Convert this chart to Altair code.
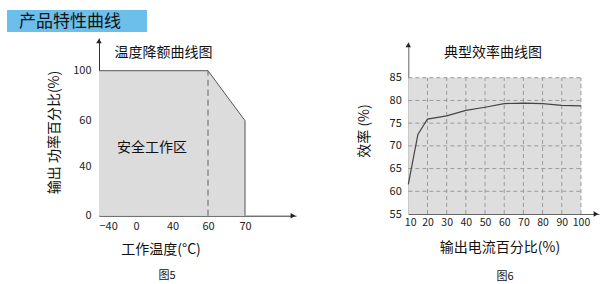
import altair as alt
import pandas as pd

FONT = "Noto Sans CJK SC"

# ---- derating curve (output power % vs ambient temperature) ----
derate_temp = [-40, 60, 70]
derate_power = [100, 100, 60]
outline_temp = [-40, 60, 70, 70]
outline_power = [100, 100, 60, 0]
temp_ticks = [-40, 0, 40, 60, 70]
power_ticks = [0, 40, 60, 100]

# ---- typical efficiency curve ----
load_pct = [10, 15, 20, 30, 40, 50, 60, 70, 80, 90, 100]
efficiency = [61.5, 72.5, 75.9, 76.6, 77.8, 78.5, 79.3, 79.4, 79.3, 78.9, 78.8]
load_ticks = [10, 20, 30, 40, 50, 60, 70, 80, 90, 100]
eff_ticks = [55, 60, 65, 70, 75, 80, 85]

W, H = 613, 284

# piecewise scales: the derating axes use evenly spaced ticks
xL = alt.Scale(domain=[-40, 0, 40, 60, 70, 100], range=[99, 136, 172.5, 208, 245, 296], nice=False, zero=False)
yL = alt.Scale(domain=[0, 40, 60, 100, 130], range=[215.7, 166, 120.7, 70.7, 38], nice=False, zero=False)
xR = alt.Scale(domain=[10, 109.4], range=[408.3, 599], nice=False, zero=False)
yR = alt.Scale(domain=[55, 92.86], range=[214, 42], nice=False, zero=False)

axis_common = dict(ticks=False, grid=False, labelFont=FONT,
                   labelColor="#222", title=None, domainWidth=1)

axL_x = alt.Axis(orient="bottom", offset=215.7 - H, values=temp_ticks, labelPadding=5,
                 labelFontSize=11, domainColor="#333", **axis_common)
axL_y = alt.Axis(orient="left", offset=-99, values=power_ticks, labelPadding=8,
                 labelFontSize=11, domainColor="#333", **axis_common)
axR_x = alt.Axis(orient="bottom", offset=214 - H, values=load_ticks, labelPadding=3,
                 labelFontSize=10.5, domainColor="#666",
                 labelOffset={"condition": {"test": "datum.value == 10", "value": -4}, "value": 0},
                 **axis_common)
axR_y = alt.Axis(orient="left", offset=-408.3, values=eff_ticks, labelPadding=7,
                 labelFontSize=11, domainColor="#666", **axis_common)

# ---------------- left panel ----------------
area_df = pd.DataFrame({"t": derate_temp, "p": derate_power, "base": [0] * len(derate_temp)})
outline_df = pd.DataFrame({"t": outline_temp, "p": outline_power, "i": range(len(outline_temp))})

area = alt.Chart(area_df).mark_area(color="#dcdcdc").encode(
    x=alt.X("t:Q", scale=xL, axis=axL_x),
    y=alt.Y("p:Q", scale=yL, axis=axL_y),
    y2="base:Q",
)
outline = alt.Chart(outline_df).mark_line(color="#555", strokeWidth=1).encode(
    x=alt.X("t:Q", scale=xL), y=alt.Y("p:Q", scale=yL), order="i:Q"
)
dash = alt.Chart(pd.DataFrame({"t": [60], "p0": [0], "p1": [100]})).mark_rule(
    color="#777", strokeDash=[6, 4], strokeWidth=1.2
).encode(x=alt.X("t:Q", scale=xL), y=alt.Y("p0:Q", scale=yL), y2="p1:Q")

arrowL_up = alt.Chart(pd.DataFrame({"t": [-40], "p": [130]})).mark_point(
    shape="triangle-up", filled=True, color="#222", size=30, opacity=1, yOffset=3
).encode(x=alt.X("t:Q", scale=xL), y=alt.Y("p:Q", scale=yL))
arrowL_right = alt.Chart(pd.DataFrame({"t": [100], "p": [0]})).mark_point(
    shape="triangle-right", filled=True, color="#222", size=30, opacity=1, xOffset=-3
).encode(x=alt.X("t:Q", scale=xL), y=alt.Y("p:Q", scale=yL))

left = alt.layer(area, outline, dash, arrowL_up, arrowL_right)

# ---------------- right panel ----------------
bg = alt.Chart(pd.DataFrame({"a": [10], "b": [100], "c": [55], "d": [85]})).mark_rect(
    color="#dedede"
).encode(
    x=alt.X("a:Q", scale=xR, axis=axR_x), x2="b:Q",
    y=alt.Y("c:Q", scale=yR, axis=axR_y), y2="d:Q",
)
vgrid = alt.Chart(pd.DataFrame({"x": load_ticks[1:], "y0": 55, "y1": 85})).mark_rule(
    color="#9a9a9a", strokeDash=[4, 3], strokeWidth=1
).encode(x=alt.X("x:Q", scale=xR), y=alt.Y("y0:Q", scale=yR), y2="y1:Q")
hgrid = alt.Chart(pd.DataFrame({"y": eff_ticks[1:], "x0": 10, "x1": 100})).mark_rule(
    color="#9a9a9a", strokeDash=[4, 3], strokeWidth=1
).encode(y=alt.Y("y:Q", scale=yR), x=alt.X("x0:Q", scale=xR), x2="x1:Q")
curve = alt.Chart(pd.DataFrame({"x": load_pct, "y": efficiency})).mark_line(
    color="#444", strokeWidth=1.2
).encode(x=alt.X("x:Q", scale=xR), y=alt.Y("y:Q", scale=yR))

arrowR_up = alt.Chart(pd.DataFrame({"x": [10], "y": [92.86]})).mark_point(
    shape="triangle-up", filled=True, color="#222", size=30, opacity=1, yOffset=3
).encode(x=alt.X("x:Q", scale=xR), y=alt.Y("y:Q", scale=yR))
arrowR_right = alt.Chart(pd.DataFrame({"x": [109.4], "y": [55]})).mark_point(
    shape="triangle-right", filled=True, color="#222", size=30, opacity=1, xOffset=-3
).encode(x=alt.X("x:Q", scale=xR), y=alt.Y("y:Q", scale=yR))

right = alt.layer(bg, vgrid, hgrid, curve, arrowR_up, arrowR_right)

# ---------------- header and captions ----------------
header_box = alt.Chart(pd.DataFrame({"k": [0]})).mark_rect(color="#6cbfea").encode(
    x=alt.value(7), x2=alt.value(147), y=alt.value(10), y2=alt.value(32)
)


def label(text, x, y, size=14, angle=0, align="center"):
    return alt.Chart(pd.DataFrame({"k": [0]})).mark_text(
        text=text, font=FONT, fontSize=size, color="#111", angle=angle,
        align=align, baseline="middle"
    ).encode(x=alt.value(x), y=alt.value(y))


texts = alt.layer(
    header_box,
    label("产品特性曲线", 19, 21.5, size=17, align="left"),
    label("温度降额曲线图", 163.5, 53),
    label("安全工作区", 152, 148),
    label("工作温度(°C)", 161, 250),
    label("输出 功率百分比(%)", 55, 132.5, angle=270),
    label("图5", 167, 276, size=11),
    label("典型效率曲线图", 493, 53),
    label("效率 (%)", 365, 131, angle=270),
    label("输出电流百分比(%)", 500, 248),
    label("图6", 505, 277, size=11),
)

chart = alt.layer(left, right, texts).resolve_scale(
    x="independent", y="independent"
).properties(
    width=W, height=H, autosize=alt.AutoSizeParams(type="none"), padding=0,
    background="white"
).configure_view(stroke=None)

chart.save("out.html", embed_options={"renderer": "svg", "actions": False})
